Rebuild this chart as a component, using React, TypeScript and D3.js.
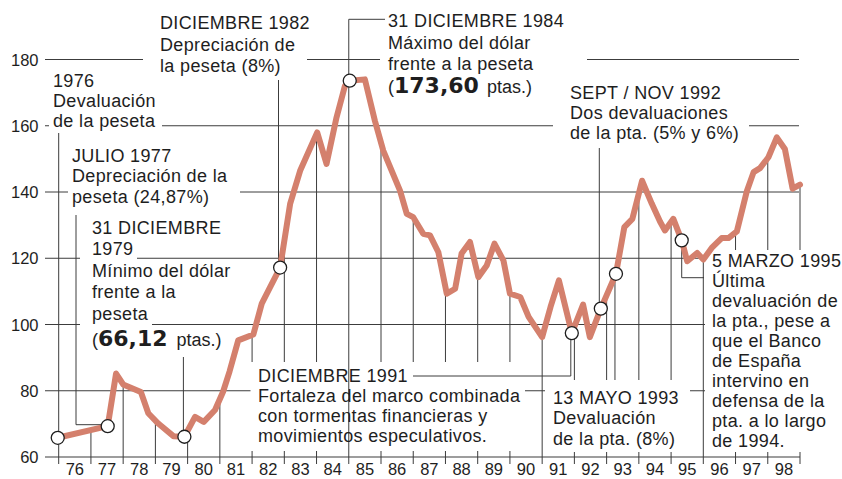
import React from 'react';
import * as d3 from 'd3';

const dates = [1975.97, 1977.52, 1977.78, 1978.0, 1978.55, 1978.78, 1979.09, 1979.56, 1979.9, 1980.23, 1980.5, 1980.85, 1981.1, 1981.3, 1981.57, 1982.04, 1982.3, 1982.56, 1982.87, 1983.18, 1983.49, 1984.02, 1984.31, 1984.62, 1984.88, 1985.03, 1985.5, 1985.81, 1986.07, 1986.59, 1986.8, 1987.0, 1987.31, 1987.52, 1987.78, 1988.04, 1988.3, 1988.5, 1988.76, 1989.02, 1989.28, 1989.52, 1989.8, 1990.0, 1990.32, 1990.58, 1991.0, 1991.26, 1991.52, 1991.92, 1992.27, 1992.48, 1992.82, 1993.29, 1993.55, 1993.8, 1994.1, 1994.4, 1994.66, 1994.81, 1995.07, 1995.33, 1995.5, 1995.81, 1996.0, 1996.26, 1996.57, 1996.78, 1997.04, 1997.35, 1997.56, 1997.76, 1998.02, 1998.28, 1998.53, 1998.77, 1999.0];
const rates = [65.8, 69.3, 85.2, 81.9, 79.6, 73.2, 70.1, 66.3, 66.12, 72.1, 70.6, 74.2, 79.7, 85.8, 95.2, 97.0, 106.3, 111.3, 117.2, 136.4, 146.4, 158.0, 148.5, 162.5, 172.0, 173.6, 174.0, 161.5, 152.5, 140.4, 133.4, 132.4, 127.4, 126.9, 121.8, 109.3, 110.8, 121.4, 124.9, 114.3, 117.8, 124.4, 119.3, 109.3, 108.3, 102.3, 96.2, 105.3, 113.3, 97.4, 106.0, 96.2, 104.8, 115.3, 129.4, 131.9, 143.4, 136.5, 131.0, 128.4, 131.9, 125.4, 119.1, 121.6, 119.6, 123.1, 126.1, 126.1, 128.1, 140.2, 146.0, 147.2, 150.5, 156.5, 153.0, 141.0, 142.2];
const markerDates = [1975.97, 1977.52, 1979.9, 1982.87, 1985.03, 1991.92, 1992.82, 1993.29, 1995.33];
const yearLabels = ['76', '77', '78', '79', '80', '81', '82', '83', '84', '85', '86', '87', '88', '89', '90', '91', '92', '93', '94', '95', '96', '97', '98'];
const yTicks = [60, 80, 100, 120, 140, 160, 180];

const W = 842, H = 479;
const x = d3.scaleLinear().domain([1976, 1999]).range([58.7, 800]);
const y = d3.scaleLinear().domain([60, 180]).range([457, 59.5]);

function valueAt(t: number) {
  const i = d3.bisectRight(dates, t);
  if (i <= 0) return rates[0];
  if (i >= dates.length) return rates[rates.length - 1];
  const t0 = dates[i - 1], t1 = dates[i];
  return rates[i - 1] + (rates[i] - rates[i - 1]) * (t - t0) / (t1 - t0);
}

const FONT = '"Liberation Sans", Arial, Helvetica, sans-serif';
const BOLD = '"DejaVu Sans", sans-serif';
const INK = '#1e1e1e';
const GRID = '#3c3c3c';
const LINE = '#D4806D';

type Block = { x: number; lines: [number, string][] };
const blocks: Block[] = [
  { x: 160, lines: [[29, 'DICIEMBRE 1982'], [50.5, 'Depreciación de'], [72, 'la peseta (8%)']] },
  { x: 53, lines: [[86.5, '1976'], [106.5, 'Devaluación'], [126.5, 'de la peseta']] },
  { x: 72, lines: [[161.5, 'JULIO 1977'], [182, 'Depreciación de la'], [202.5, 'peseta (24,87%)']] },
  { x: 92, lines: [[233.5, '31 DICIEMBRE'], [255, '1979'], [276.5, 'Mínimo del dólar'], [298, 'frente a la'], [319.5, 'peseta']] },
  { x: 388, lines: [[26.5, '31 DICIEMBRE 1984'], [48.5, 'Máximo del dólar'], [70, 'frente a la peseta']] },
  { x: 570, lines: [[98.5, 'SEPT / NOV 1992'], [118.5, 'Dos devaluaciones'], [138.5, 'de la pta. (5% y 6%)']] },
  { x: 258, lines: [[381.5, 'DICIEMBRE 1991'], [401.5, 'Fortaleza del marco combinada'], [421.5, 'con tormentas financieras y'], [442, 'movimientos especulativos.']] },
  { x: 553, lines: [[403.5, '13 MAYO 1993'], [424, 'Devaluación'], [444.5, 'de la pta. (8%)']] },
  { x: 712, lines: [[267, '5 MARZO 1995'], [287, 'Última'], [307, 'devaluación de'], [327, 'la pta., pese a'], [347, 'que el Banco'], [367, 'de España'], [387, 'intervino en'], [407, 'defensa de la'], [427, 'pta. a lo largo'], [446.5, 'de 1994.']] },
];

const masks = [
  [143, 10, 164, 66],
  [49, 68, 113, 63],
  [68, 144, 172, 64],
  [80, 240, 57, 22],
  [80, 304, 72, 24],
  [380, 4, 207, 96],
  [553, 80, 196, 63],
  [250.5, 362, 274.5, 89],
  [545, 380, 145, 72],
  [705, 250, 137, 202],
];

export default function App() {
  const line = d3.line<number>().x((_, i) => x(dates[i])).y((d) => y(d));
  const boundaries = d3.range(1977, 2000).filter((yr) => yr !== 1985);
  const pt = (t: number) => [x(t), y(valueAt(t))];
  const m = markerDates.map((t) => pt(t));
  const leaders = [
    `M${x(1976)},133V464`,
    `M76,215V${m[1][1] - 1.5}H${m[1][0]}`,
    `M${m[2][0] - 1},357V${m[2][1]}`,
    `M278.5,80V${m[3][1]}`,
    `M385,19.3H${x(1985)}V464`,
    `M599.3,148V${m[6][1]}`,
    `M${m[7][0] - 1},${m[7][1]}V380`,
    `M413,376H${m[5][0] - 1}V${m[5][1]}`,
    `M${m[8][0]},${m[8][1]}V277.7H704`,
  ];
  return (
    <svg width={W} height={H} style={{ position: 'absolute', left: 0, top: 0, display: 'block', background: '#fff' }} fontFamily={FONT}>
      <rect width={W} height={H} fill="#fff" />
      {yTicks.slice(1).map((v) => (
        <line key={v} x1={45} x2={799} y1={y(v)} y2={y(v)} stroke={GRID} strokeWidth={1} />
      ))}
      {boundaries.map((yr) => (
        <line key={yr} x1={x(yr)} x2={x(yr)} y1={y(valueAt(yr))} y2={464} stroke={GRID} strokeWidth={1} />
      ))}
      {masks.map((r, i) => (
        <rect key={i} x={r[0]} y={r[1]} width={r[2]} height={r[3]} fill="#fff" />
      ))}
      {leaders.map((d, i) => (
        <path key={i} d={d} fill="none" stroke={GRID} strokeWidth={1} />
      ))}
      <line x1={45} x2={800} y1={y(60)} y2={y(60)} stroke={GRID} strokeWidth={1.2} />
      <path d={line(rates) || ''} fill="none" stroke={LINE} strokeWidth={6} strokeLinejoin="round" strokeLinecap="round" />
      {m.map((p, i) => (
        <circle key={i} cx={p[0]} cy={p[1]} r={6.5} fill="#fff" stroke={INK} strokeWidth={1.3} />
      ))}
      {yTicks.map((v) => (
        <text key={v} x={38.5} y={y(v) + 6} textAnchor="end" fontSize={16.5} fill={INK}>{v}</text>
      ))}
      {yearLabels.map((lab, i) => (
        <text key={lab} x={x(1976 + i + 0.5)} y={475} textAnchor="middle" fontSize={16.5} fill={INK}>{lab}</text>
      ))}
      {blocks.map((b, bi) => (
        <g key={bi}>
          {b.lines.map(([ly, t], li) => (
            <text key={li} x={b.x} y={ly} fontSize={18} letterSpacing={0.35} fill={INK}>{t}</text>
          ))}
        </g>
      ))}
      <text x={92} y={346} fontSize={18} fill={INK}>
        (<tspan fontFamily={BOLD} fontWeight="bold" fontSize={22}>66,12</tspan><tspan dx={4}> ptas.)</tspan>
      </text>
      <text x={388} y={93} fontSize={18} fill={INK}>
        (<tspan fontFamily={BOLD} fontWeight="bold" fontSize={22}>173,60</tspan><tspan dx={3}> ptas.)</tspan>
      </text>
    </svg>
  );
}
